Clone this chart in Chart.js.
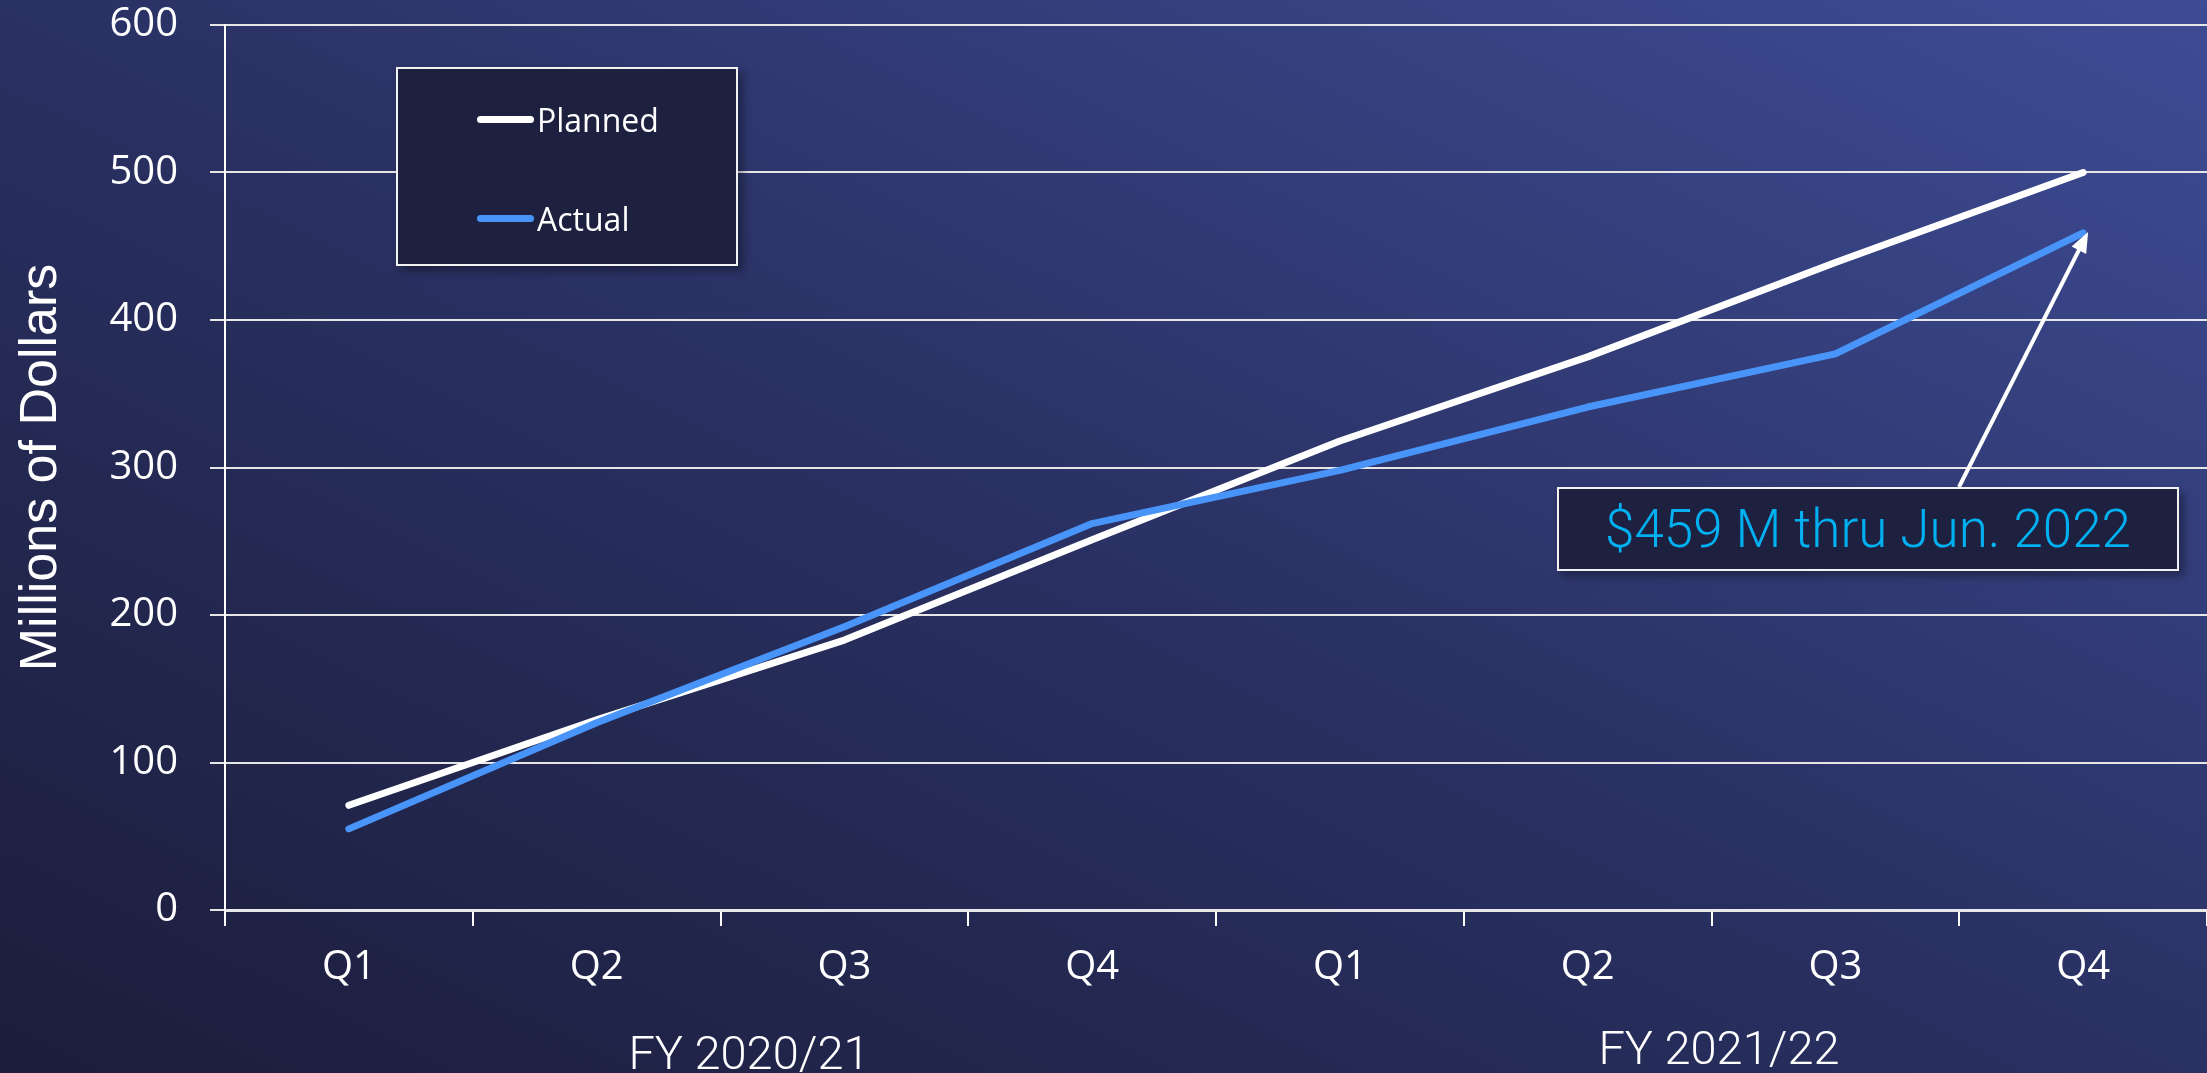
<!DOCTYPE html>
<html>
<head>
<meta charset="utf-8">
<script src="https://cdn.jsdelivr.net/npm/chart.js@4.4.1/dist/chart.umd.min.js"></script>
<style>
  html, body { margin: 0; padding: 0; width: 2207px; height: 1073px; overflow: hidden; }
  body { background: linear-gradient(to top right, #1b1d3a 0%, #2a3163 50%, #3e4c95 100%); position: relative; font-family: "Open Sans", sans-serif; }
  #wrap { position: absolute; left: 0; top: 0; width: 2207px; height: 1073px; }
  .box { position: absolute; background: #1e2040; border: 2px solid #f2f2f2; box-sizing: border-box; box-shadow: 5px 5px 8px rgba(0,0,0,0.35); }
  #legend { left: 396px; top: 67px; width: 342px; height: 199px; }
  .leg-item { position: absolute; left: 79px; height: 40px; display: flex; align-items: center; color: #fff; font-size: 32px; }
  .leg-swatch { width: 57px; height: 7px; border-radius: 4px; margin-right: 3px; }
  #note { left: 1557px; top: 487px; width: 622px; height: 84px; display: flex; align-items: center; justify-content: center; color: #00b0f0; font-family: Roboto, sans-serif; font-weight: 300; font-size: 53px; }
  .fy { position: absolute; color: #fff; font-family: Roboto, sans-serif; font-weight: 300; font-size: 47px; transform: translate(-50%, -50%); white-space: nowrap; }
</style>
</head>
<body>
<div id="wrap"><canvas id="chart"></canvas></div>
<div id="legend" class="box"></div>
<div id="note" class="box"></div>
<div id="fyMount"></div>
<script>
const quarters = ["Q1", "Q2", "Q3", "Q4", "Q1", "Q2", "Q3", "Q4"];
const planned = [71, 129, 183, 251, 318, 375, 439, 500];
const actual = [55, 127, 192, 262, 298, 341, 377, 459];
const yTicks = [0, 100, 200, 300, 400, 500, 600];
const fiscalYears = ["FY 2020/21", "FY 2021/22"];
const noteText = "$459 M thru Jun. 2022";

const plannedColor = "#ffffff";
const actualColor = "#4894f8";

// arrow from the note box up to the last actual point
const arrowPlugin = {
  id: "arrow",
  afterDatasetsDraw(chart) {
    const meta = chart.getDatasetMeta(1);
    const tip = meta.data[meta.data.length - 1];
    const ctx = chart.ctx;
    const sx = 1959, sy = 487;
    const tx = tip.x + 5, ty = tip.y - 1;
    const ang = Math.atan2(ty - sy, tx - sx);
    const head = 22;
    ctx.save();
    ctx.strokeStyle = "#ffffff";
    ctx.fillStyle = "#ffffff";
    ctx.lineWidth = 4;
    ctx.beginPath();
    ctx.moveTo(sx, sy);
    ctx.lineTo(tx - Math.cos(ang) * head * 0.8, ty - Math.sin(ang) * head * 0.8);
    ctx.stroke();
    ctx.beginPath();
    ctx.moveTo(tx, ty);
    ctx.lineTo(tx - head * Math.cos(ang - 0.38), ty - head * Math.sin(ang - 0.38));
    ctx.lineTo(tx - head * Math.cos(ang + 0.38), ty - head * Math.sin(ang + 0.38));
    ctx.closePath();
    ctx.fill();
    ctx.restore();
  }
};

function renderChart() {
  const ctx = document.getElementById("chart").getContext("2d");
  return new Chart(ctx, {
    type: "line",
    data: {
      labels: quarters,
      datasets: [
        {
          label: "Planned",
          data: planned,
          borderColor: plannedColor,
          borderWidth: 7,
          borderCapStyle: "round",
          borderJoinStyle: "round",
          pointRadius: 0,
          tension: 0,
          order: 1
        },
        {
          label: "Actual",
          data: actual,
          borderColor: actualColor,
          borderWidth: 7,
          borderCapStyle: "round",
          borderJoinStyle: "round",
          pointRadius: 0,
          tension: 0,
          order: 0
        }
      ]
    },
    options: {
      responsive: true,
      maintainAspectRatio: false,
      animation: false,
      layout: { padding: { top: 25, left: 0, right: 0, bottom: 0 } },
      plugins: {
        legend: { display: false },
        tooltip: { enabled: false }
      },
      scales: {
        x: {
          offset: true,
          afterFit: s => { s.height = 163; s.paddingLeft = 0; s.paddingRight = 0; },
          grid: { display: true, offset: true, drawOnChartArea: false, drawTicks: true, tickLength: 16, color: "#ffffff", lineWidth: 2 },
          border: { display: true, color: "#e8e8e8", width: 3 },
          ticks: { color: "#ffffff", font: { family: "Open Sans", size: 40 }, padding: 18, maxRotation: 0, autoSkip: false }
        },
        y: {
          min: 0,
          max: 600,
          afterFit: s => { s.width = 225; s.paddingTop = 0; s.paddingBottom = 0; },
          afterBuildTicks: s => { s.ticks = yTicks.map(v => ({ value: v })); },
          grid: { color: "#e6e6e6", lineWidth: 2, tickLength: 15 },
          border: { display: true, color: "#ffffff", width: 2 },
          ticks: { color: "#ffffff", font: { family: "Open Sans", size: 40 }, padding: 32 },
          title: {
            display: true,
            text: "Millions of Dollars",
            color: "#ffffff",
            font: { family: "Liberation Sans", size: 52 },
            padding: { top: 10, bottom: 0 }
          }
        }
      }
    },
    plugins: [arrowPlugin]
  });
}

function renderLegend(chart) {
  const mount = document.getElementById("legend");
  const rowY = [30, 129];
  chart.data.datasets.forEach((ds, i) => {
    const item = document.createElement("div");
    item.className = "leg-item";
    item.style.top = rowY[i] + "px";
    item.innerHTML = `<span class="leg-swatch" style="background:${ds.borderColor}"></span><span>${ds.label}</span>`;
    mount.appendChild(item);
  });
}

function renderLabels() {
  document.getElementById("note").textContent = noteText;
  const pos = [[749, 1052], [1719, 1047]];
  const mount = document.getElementById("fyMount");
  fiscalYears.forEach((t, i) => {
    const d = document.createElement("div");
    d.className = "fy";
    d.style.left = pos[i][0] + "px";
    d.style.top = pos[i][1] + "px";
    d.textContent = t;
    mount.appendChild(d);
  });
}

const chart = renderChart();
renderLegend(chart);
renderLabels();
</script>
</body>
</html>
